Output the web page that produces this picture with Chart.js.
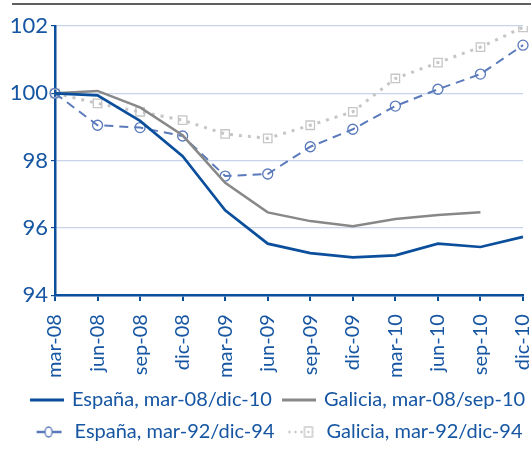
<!DOCTYPE html>
<html>
<head>
<meta charset="utf-8">
<script src="https://cdn.jsdelivr.net/npm/chart.js@4.4.1/dist/chart.umd.min.js"></script>
<style>
	body { margin: 0; background: #fff; }
	#wrap { position: relative; width: 531px; height: 452px; }
	#topline { position: absolute; left: 12px; top: 3px; width: 519px; height: 2px; background: #5f5f5f; }
</style>
</head>
<body>
<div id="wrap">
	<div id="topline"></div>
	<canvas id="lineChartDiv" width="531" height="452"></canvas>
</div>
<script>
var labels = ["mar-08", "jun-08", "sep-08", "dic-08", "mar-09", "jun-09", "sep-09", "dic-09", "mar-10", "jun-10", "sep-10", "dic-10"];
var espana0810 = [100, 99.94, 99.18, 98.13, 96.52, 95.53, 95.25, 95.12, 95.18, 95.53, 95.43, 95.73];
var galicia0810 = [100, 100.07, 99.58, 98.75, 97.34, 96.46, 96.2, 96.05, 96.26, 96.38, 96.46, null];
var espana9294 = [100, 99.05, 98.98, 98.73, 97.54, 97.6, 98.41, 98.93, 99.62, 100.12, 100.57, 101.43];
var galicia9294 = [100, 99.7, 99.45, 99.2, 98.79, 98.66, 99.05, 99.45, 100.44, 100.91, 101.37, 101.96];
var yTicks = [94, 96, 98, 100, 102];

var blue = '#0b4f9c';
var textBlue = '#1656a2';
var fontFamily = 'Lato';

// little pictures for the legend: a piece of line with its marker
function legendIcon(color, dash, lineWidth, marker) {
	var c = document.createElement('canvas');
	c.width = 34;
	c.height = 14;
	var ctx = c.getContext('2d');
	ctx.strokeStyle = color;
	ctx.lineWidth = lineWidth;
	ctx.setLineDash(dash);
	ctx.beginPath();
	ctx.moveTo(marker ? 4 : 0, 7);
	ctx.lineTo(marker ? 29 : 34, 7);
	ctx.stroke();
	ctx.setLineDash([]);
	ctx.lineWidth = 1.3;
	if (marker === 'circle') {
		ctx.fillStyle = '#fff';
		ctx.beginPath();
		ctx.ellipse(16, 7, 3.5, 5, 0, 0, 2 * Math.PI);
		ctx.fill();
		ctx.stroke();
	}
	if (marker === 'rect') {
		ctx.fillStyle = '#fff';
		ctx.fillRect(20, 2, 8, 10);
		ctx.strokeRect(20, 2, 8, 10);
		ctx.fillStyle = color;
		ctx.fillRect(23, 6, 2, 2);
	}
	return c;
}

var icons = [
	legendIcon(blue, [], 3, null),
	legendIcon('#888888', [], 3, null),
	legendIcon('#5a7abb', [], 2.5, 'circle'),
	legendIcon('#c6c6c6', [2, 4], 2.5, 'rect')
];

// the legend in the original sits a bit right of centre
var legendShift = {
	id: 'legendShift',
	afterLayout: function(chart) {
		chart.legend.left += 13;
		chart.legend.right += 13;
	}
};

var ctx = document.getElementById('lineChartDiv');

var lineChart = new Chart(ctx, {
	type: 'line',
	plugins: [legendShift],
	data: {
		labels: labels,
		datasets: [
		{
			label: 'España, mar-08/dic-10',
			data: espana0810,
			borderColor: blue,
			borderWidth: 2.7,
			pointRadius: 0,
			tension: 0
		},
		{
			label: 'Galicia, mar-08/sep-10',
			data: galicia0810,
			borderColor: '#888888',
			borderWidth: 2.5,
			pointRadius: 0,
			tension: 0
		},
		{
			label: 'España, mar-92/dic-94',
			data: espana9294,
			borderColor: '#5a7abb',
			borderWidth: 2,
			borderDash: [9, 6],
			pointStyle: 'circle',
			pointRadius: 5,
			pointBorderWidth: 1.3,
			pointBorderColor: '#5a7abb',
			pointBackgroundColor: 'rgba(255,255,255,0)',
			tension: 0
		},
		{
			label: 'Galicia, mar-92/dic-94',
			data: galicia9294,
			borderColor: '#c6c6c6',
			borderWidth: 3,
			borderDash: [3, 6],
			pointStyle: 'rect',
			pointRadius: 6,
			pointBorderWidth: 1.3,
			pointBorderColor: '#c6c6c6',
			pointBackgroundColor: 'rgba(255,255,255,0)',
			tension: 0
		}]
	},
	options: {
		responsive: false,
		animation: false,
		events: [],
		layout: {
			padding: { left: 0, right: 0, top: 26, bottom: 0 }
		},
		plugins: {
			title: { display: false },
			tooltip: { enabled: false },
			legend: {
				position: 'bottom',
				labels: {
					color: textBlue,
					font: { family: fontFamily, size: 20 },
					usePointStyle: true,
					pointStyleWidth: 30,
					boxHeight: 14,
					padding: 12,
					generateLabels: function(chart) {
						var items = Chart.defaults.plugins.legend.labels.generateLabels(chart);
						items.forEach(function(item, i) {
							item.pointStyle = icons[i];
						});
						return items;
					}
				}
			}
		},
		scales: {
			x: {
				offset: false,
				afterFit: function(scale) {
					scale.paddingRight = 8;
					scale.height = scale.height - 13;
				},
				grid: {
					drawOnChartArea: false,
					drawTicks: true,
					tickLength: 6,
					tickColor: blue,
					lineWidth: 2
				},
				border: { color: blue, width: 2.5 },
				ticks: {
					color: textBlue,
					font: { family: fontFamily, size: 20 },
					minRotation: 90,
					maxRotation: 90,
					autoSkip: false,
					padding: 13
				}
			},
			y: {
				min: 94,
				max: 102,
				afterBuildTicks: function(scale) {
					scale.ticks = yTicks.map(function(v) { return { value: v }; });
				},
				afterFit: function(scale) {
					scale.width = 55;
				},
				grid: {
					color: '#c7d4ec',
					lineWidth: 1.2,
					tickColor: blue,
					tickLength: 4
				},
				border: { color: blue, width: 2.5 },
				ticks: {
					color: textBlue,
					font: { family: fontFamily, size: 22 },
					padding: 3
				}
			}
		}
	}
});
</script>
</body>
</html>
